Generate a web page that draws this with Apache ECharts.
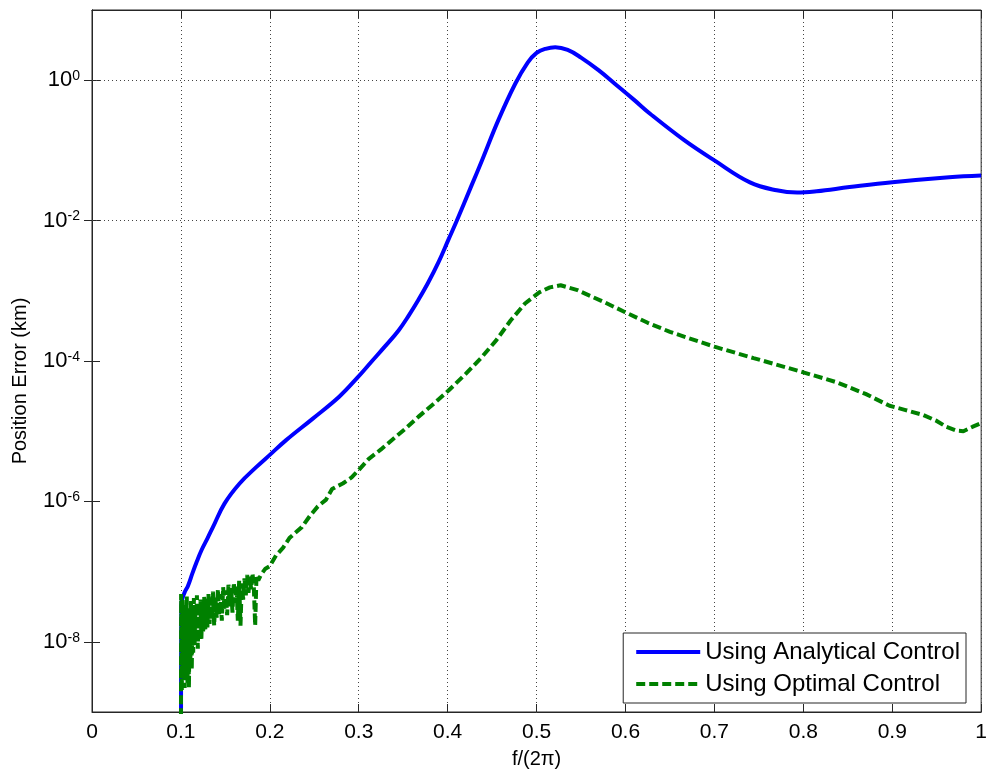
<!DOCTYPE html>
<html>
<head>
<meta charset="utf-8">
<script src="https://cdn.jsdelivr.net/npm/echarts@6/dist/echarts.min.js"></script>
<style>html,body{margin:0;padding:0;background:#fff}#c{width:990px;height:780px}</style>
</head>
<body>
<div id="c"></div>
<script>
// ---- data ----
const seriesNames = ['Using Analytical Control', 'Using Optimal Control'];
const xTicks = [0, 0.1, 0.2, 0.3, 0.4, 0.5, 0.6, 0.7, 0.8, 0.9, 1];
const yTicks = [1e-8, 1e-6, 1e-4, 1e-2, 1];

const analyticalF = [0.100, 0.1005, 0.104, 0.108, 0.113, 0.118, 0.123, 0.130, 0.136, 0.149, 0.166, 0.185, 0.200, 0.218, 0.248, 0.278, 0.298, 0.315, 0.330, 0.345, 0.356, 0.367, 0.378, 0.390, 0.401, 0.410, 0.427, 0.438, 0.457, 0.476, 0.490, 0.500, 0.510, 0.521, 0.535, 0.550, 0.570, 0.589, 0.610, 0.628, 0.666, 0.700, 0.740, 0.770, 0.793, 0.815, 0.852, 0.900, 0.964, 1.000];
const analyticalV = [1e-10, 3.5e-8, 5.0e-8, 6.3e-8, 9.5e-8, 1.4e-7, 2.0e-7, 3.0e-7, 4.3e-7, 9.3e-7, 1.8e-6, 3.1e-6, 4.6e-6, 7.4e-6, 1.5e-5, 3.1e-5, 5.7e-5, 1.0e-4, 1.64e-4, 2.75e-4, 4.4e-4, 7.4e-4, 1.3e-3, 2.6e-3, 5.4e-3, 9.8e-3, 3.2e-2, 6.9e-2, 0.27, 0.89, 1.78, 2.45, 2.8, 2.95, 2.7, 2.1, 1.38, 0.87, 0.52, 0.33, 0.14, 0.072, 0.035, 0.027, 0.0251, 0.0262, 0.0300, 0.0352, 0.0415, 0.0440];

const optimalF = [0.1000, 0.1002, 0.1010, 0.1018, 0.1026, 0.1034, 0.1042, 0.1050, 0.1058, 0.1066, 0.1074, 0.1082, 0.1090, 0.1098, 0.1106, 0.1114, 0.1122, 0.1130, 0.1138, 0.1146, 0.1154, 0.1162, 0.1170, 0.1180, 0.1190, 0.1200, 0.1210, 0.1220, 0.1230, 0.1240, 0.1250, 0.1262, 0.1274, 0.1286, 0.1298, 0.1310, 0.1322, 0.1334, 0.1346, 0.1360, 0.1374, 0.1388, 0.1402, 0.1416, 0.1430, 0.1445, 0.1460, 0.1475, 0.1490, 0.1505, 0.1520, 0.1535, 0.1550, 0.1565, 0.1580, 0.1595, 0.1610, 0.1625, 0.1640, 0.1655, 0.1670, 0.1685, 0.1700, 0.1715, 0.1730, 0.1745, 0.1760, 0.1775, 0.1790, 0.1805, 0.1820, 0.1835, 0.1850, 0.1870, 0.1900, 0.195, 0.200, 0.207, 0.215, 0.222, 0.229, 0.236, 0.245, 0.254, 0.263, 0.270, 0.274, 0.282, 0.292, 0.300, 0.311, 0.325, 0.340, 0.353, 0.367, 0.385, 0.401, 0.420, 0.438, 0.455, 0.471, 0.487, 0.503, 0.515, 0.527, 0.546, 0.576, 0.599, 0.625, 0.650, 0.700, 0.744, 0.800, 0.837, 0.870, 0.897, 0.915, 0.935, 0.950, 0.961, 0.972, 0.980, 0.990, 1.000];
const optimalV = [1e-10, 4.8e-8, 2.0e-9, 4.0e-8, 3.0e-9, 3.5e-8, 2.2e-9, 3.2e-8, 4.0e-9, 4.4e-8, 2.5e-9, 3.0e-8, 2.2e-9, 2.8e-8, 5.0e-9, 3.8e-8, 4.0e-9, 2.6e-8, 7.0e-9, 4.2e-8, 9.0e-9, 3.2e-8, 1.0e-8, 4.6e-8, 8.0e-9, 3.4e-8, 1.2e-8, 4.0e-8, 1.1e-8, 3.0e-8, 1.4e-8, 4.4e-8, 1.5e-8, 3.6e-8, 1.6e-8, 4.8e-8, 1.8e-8, 4.0e-8, 2.0e-8, 5.2e-8, 1.7e-8, 4.4e-8, 2.2e-8, 5.6e-8, 2.4e-8, 4.8e-8, 2.0e-8, 6.0e-8, 2.8e-8, 5.4e-8, 2.4e-8, 6.5e-8, 3.2e-8, 5.8e-8, 2.6e-8, 7.0e-8, 3.6e-8, 6.4e-8, 2.0e-8, 7.4e-8, 1.7e-8, 6.8e-8, 4.0e-8, 8.0e-8, 4.6e-8, 9.0e-8, 5.0e-8, 8.5e-8, 5.6e-8, 9.5e-8, 6.0e-8, 1.7e-8, 9.0e-8, 7.5e-8, 9.0e-8, 1.1e-7, 1.2e-7, 1.7e-7, 2.2e-7, 3.0e-7, 3.6e-7, 4.3e-7, 6.2e-7, 8.5e-7, 1.05e-6, 1.5e-6, 1.6e-6, 1.8e-6, 2.2e-6, 2.8e-6, 4.0e-6, 5.5e-6, 8.0e-6, 1.1e-5, 1.6e-5, 2.5e-5, 3.8e-5, 6.5e-5, 1.12e-4, 2.0e-4, 3.8e-4, 6.6e-4, 9.5e-4, 1.12e-3, 1.2e-3, 1.02e-3, 6.9e-4, 5.0e-4, 3.5e-4, 2.6e-4, 1.6e-4, 1.1e-4, 6.9e-5, 5.0e-5, 3.4e-5, 2.3e-5, 2.0e-5, 1.7e-5, 1.4e-5, 1.15e-5, 1.02e-5, 1.0e-5, 1.15e-5, 1.3e-5];

// ---- chart ----
const FONT = '"Liberation Sans", Arial, Helvetica, sans-serif';
const AXC = '#262626';
const chart = echarts.init(document.getElementById('c'), null, {renderer: 'canvas'});

function pairs(xs, ys) { return xs.map((x, i) => [x, ys[i]]); }

const dotStyle = {color: '#444', width: 1, type: [1, 3]};

chart.setOption({
  animation: false,
  backgroundColor: '#fff',
  grid: {left: 92, right: 5, top: 10, bottom: 68, show: true, borderColor: AXC, borderWidth: 1, backgroundColor: 'transparent'},
  legend: {
    data: seriesNames,
    orient: 'vertical',
    right: 24, top: 633,
    backgroundColor: '#fff',
    borderColor: AXC, borderWidth: 1,
    padding: [7, 6, 7, 11],
    itemWidth: 64, itemHeight: 22, itemGap: 8,
    itemStyle: {opacity: 0},
    lineStyle: {width: 4},
    textStyle: {fontFamily: FONT, fontSize: 24, color: '#000'}
  },
  xAxis: [{
    type: 'value', min: 0, max: 1, interval: 0.1,
    name: 'f/(2\u03c0)', nameLocation: 'middle', nameGap: 37,
    nameTextStyle: {fontFamily: FONT, fontSize: 20, color: '#000'},
    axisLine: {show: true, lineStyle: {color: AXC, width: 1}},
    axisTick: {show: true, inside: true, length: 8, lineStyle: {color: AXC}},
    axisLabel: {fontFamily: FONT, fontSize: 21, color: '#000', margin: 10,
      formatter: v => { const t = xTicks.find(x => Math.abs(x - v) < 1e-9); return t === undefined ? '' : String(t); }},
    splitLine: {show: true, lineStyle: dotStyle}
  }, {
    type: 'value', min: 0, max: 1, interval: 0.1, position: 'top',
    axisLine: {show: true, lineStyle: {color: AXC, width: 1}},
    axisTick: {show: true, inside: true, length: 8, lineStyle: {color: AXC}},
    axisLabel: {show: false}, splitLine: {show: false}
  }],
  yAxis: [{
    type: 'log', logBase: 10, min: 1e-9, max: 10,
    name: 'Position Error (km)', nameLocation: 'middle', nameGap: 62,
    nameTextStyle: {fontFamily: FONT, fontSize: 20, color: '#000', padding: [0, 40, 0, 0]},
    axisLine: {show: true, lineStyle: {color: AXC, width: 1}},
    axisTick: {show: true, inside: true, length: 8, lineStyle: {color: AXC}, customValues: yTicks},
    axisLabel: {margin: 12, color: '#000', customValues: yTicks,
      formatter: v => {
        const e = Math.round(Math.log10(v));
        return '{b|10}{s|' + e + '}';
      },
      rich: {
        b: {fontFamily: FONT, fontSize: 22, lineHeight: 22, padding: [7, 0, 7, 0], verticalAlign: 'middle', color: '#000'},
        s: {fontFamily: FONT, fontSize: 14, lineHeight: 14, verticalAlign: 'top', color: '#000'}
      }
    },
    splitLine: {show: false}
  }, {
    type: 'log', logBase: 10, min: 1e-9, max: 10, position: 'right',
    axisLine: {show: true, lineStyle: {color: AXC, width: 1}},
    axisTick: {show: true, inside: true, length: 8, lineStyle: {color: AXC}, customValues: yTicks},
    axisLabel: {show: false, customValues: yTicks}, splitLine: {show: false}
  }],
  series: [{
    name: seriesNames[0], type: 'line', xAxisIndex: 0, yAxisIndex: 0,
    data: pairs(analyticalF, analyticalV),
    showSymbol: false, symbol: 'none', smooth: 0.4,
    lineStyle: {color: '#0000ff', width: 4},
    itemStyle: {color: '#0000ff'},
    markLine: {
      silent: true, z: 1, symbol: ['none', 'none'], animation: false,
      label: {show: false},
      lineStyle: dotStyle,
      emphasis: {disabled: true},
      data: yTicks.map(v => ({yAxis: v}))
    }
  }, {
    name: seriesNames[1], type: 'line', xAxisIndex: 0, yAxisIndex: 0,
    data: pairs(optimalF, optimalV),
    showSymbol: false, symbol: 'none',
    lineStyle: {color: '#008000', width: 4, type: [9, 4]},
    itemStyle: {color: '#008000'}
  }]
});
</script>
</body>
</html>
